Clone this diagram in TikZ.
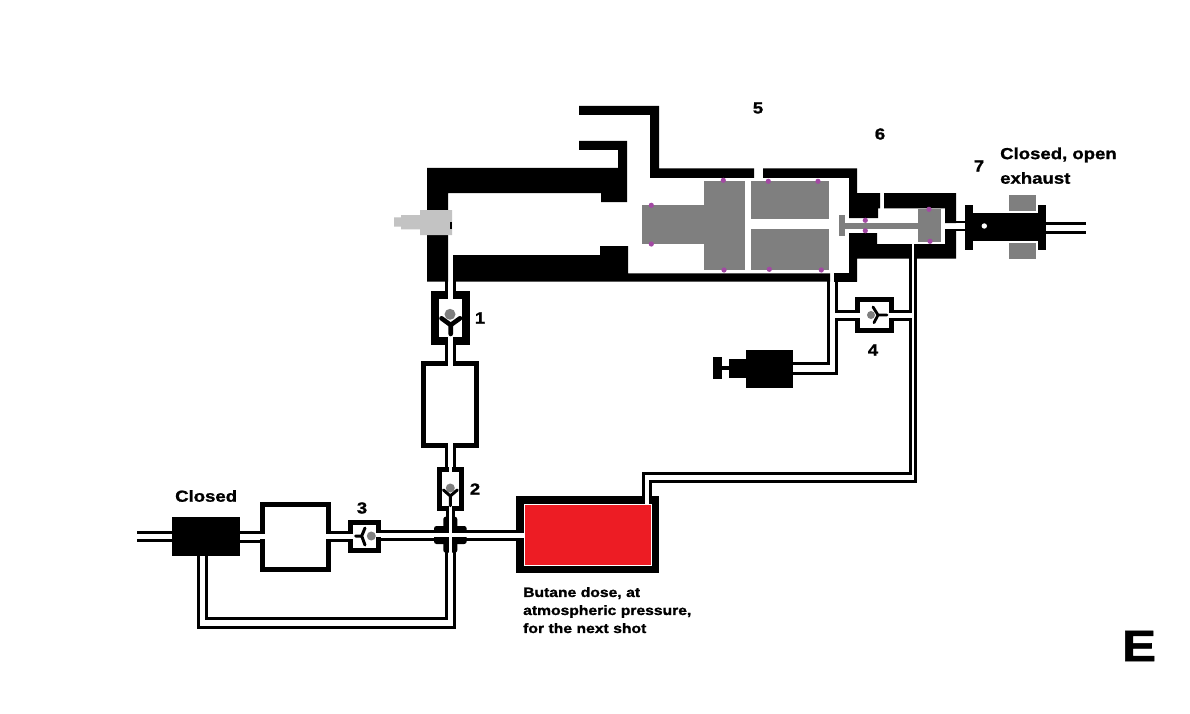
\documentclass[tikz,border=0pt]{standalone}
\usepackage{fontspec}
\setmainfont{Liberation Sans}[BoldFeatures={FakeStretch=1.16,FakeBold=1.2}]
\definecolor{partgray}{HTML}{7F7F7F}
\definecolor{nozzle}{HTML}{C3C3C3}
\definecolor{seal}{HTML}{A349A4}
\definecolor{dose}{HTML}{ED1C24}
\newcommand{\blk}[4]{\fill[black] (#1,#2) rectangle (#3,#4);}
\newcommand{\wht}[4]{\fill[white] (#1,#2) rectangle (#3,#4);}
\newcommand{\gry}[4]{\fill[partgray] (#1,#2) rectangle (#3,#4);}
\newcommand{\sealdot}[2]{\fill[seal] (#1,#2) circle (2.6);}
\tikzset{
  pipe/.style={draw=black,line width=3,line cap=butt,line join=miter},
  vane/.style={draw=black,line cap=round,line join=round},
  box/.style={draw=black,fill=white,line width=5.2,line join=miter},
  lab/.style={inner sep=0,anchor=west,font=\bfseries\fontsize{16}{18}\selectfont,align=left},
  num/.style={inner sep=0,font=\bfseries\fontsize{16}{18}\selectfont},
}
\begin{document}
\begin{tikzpicture}[x=1pt,y=-1pt]
\useasboundingbox (0,0) rectangle (1190,714);
\fill[white] (0,0) rectangle (1190,714);

% ---- long pipes
\draw[pipe] (198.5,556) -- (198.5,627) -- (454.5,627) -- (454.5,545);
\draw[pipe] (206.5,556) -- (206.5,618) -- (446.8,618) -- (446.8,545);
\draw[pipe] (643.5,497) -- (643.5,473.5) -- (910,473.5) -- (910,319.5) -- (893,319.5);
\draw[pipe] (650.5,497) -- (650.5,481.5) -- (915.5,481.5) -- (915.5,256);
\draw[pipe] (910,256) -- (910,311.5) -- (893,311.5);
\draw[pipe] (828.5,280) -- (828.5,363.5) -- (792,363.5);
\draw[pipe] (836.5,280) -- (836.5,311.5) -- (857,311.5);
\draw[pipe] (792,373.5) -- (836.5,373.5) -- (836.5,319.5) -- (857,319.5);
% vertical line of valves 1, 2
\draw[pipe] (446.5,280) -- (446.5,293);
\draw[pipe] (454.5,280) -- (454.5,293);
\draw[pipe] (446.5,343) -- (446.5,363);
\draw[pipe] (454.5,343) -- (454.5,363);
\draw[pipe] (446.5,446) -- (446.5,468);
\draw[pipe] (454.5,446) -- (454.5,468);
\draw[pipe] (447.5,509) -- (447.5,520);
\draw[pipe] (453.5,509) -- (453.5,520);
% horizontal line
\draw[pipe] (137,532.5) -- (173,532.5);
\draw[pipe] (137,540.5) -- (173,540.5);
\draw[pipe] (239,532.5) -- (262,532.5);
\draw[pipe] (239,541) -- (262,541);
\draw[pipe] (329,532.5) -- (350,532.5);
\draw[pipe] (329,540.5) -- (350,540.5);
\draw[pipe] (379,531.3) -- (518,531.3);
\draw[pipe] (379,539.2) -- (518,539.2);
% line to valve 7
\draw[pipe,line width=2.4] (955,222) -- (966,222);
\draw[pipe,line width=2.4] (955,230) -- (966,230);
\draw[pipe] (1045,223.5) -- (1086,223.5);
\draw[pipe] (1045,232.5) -- (1086,232.5);

% ---- main body
\fill[black] (427,168) -- (618,168) -- (618,150) -- (579,150) -- (579,141) -- (627,141)
  -- (627,202) -- (601,202) -- (601,193) -- (448,193) -- (448,281.7) -- (427,281.7) -- cycle;
\fill[black] (453,255) -- (600,255) -- (600,246) -- (628,246) -- (628,273.3) -- (830,273.3)
  -- (830,281.7) -- (453,281.7) -- cycle;
\blk{834}{273.3}{857}{281.7}
\fill[black] (579,106) -- (659,106) -- (659,168.5) -- (754,168.5) -- (754,178) -- (650,178)
  -- (650,115) -- (579,115) -- cycle;
\fill[black] (763,168.5) -- (857,168.5) -- (857,193) -- (880,193) -- (880,208.3) -- (878,208.3)
  -- (878,218) -- (849,218) -- (849,178) -- (763,178) -- cycle;
\fill[black] (849,233) -- (877,233) -- (877,244) -- (945,244) -- (945,229) -- (956,229)
  -- (956,258.7) -- (857,258.7) -- (857,281.7) -- (849,281.7) -- cycle;
\fill[black] (884,193) -- (956,193) -- (956,223) -- (945,223) -- (945,208.3) -- (884,208.3) -- cycle;
\wht{911.5}{244}{914}{259}

% ---- pistons
\gry{642}{205}{705}{244}
\gry{704}{181}{745}{270}
\gry{751}{181}{829}{219}
\gry{751}{229}{829}{270}
\gry{839}{215}{845}{236}
\gry{845}{222.5}{918}{228.7}
\gry{918}{209}{941}{242}
\foreach \px/\py in {651.3/205.3,651.3/244,723.3/180.3,724/270,768.3/181.3,818/181.3,
  769.3/269.3,821.3/270,865.3/220.3,865.3/230.7,929/209.3,930/241.3}{\sealdot{\px}{\py}}

% ---- nozzle
\fill[nozzle] (394,217.3) -- (401,217.3) -- (401,215) -- (420,215) -- (420,210) -- (452,210)
  -- (452,235) -- (420,235) -- (420,229.3) -- (401,229.3) -- (401,226.7) -- (394,226.7) -- cycle;
\blk{449.5}{222}{452}{229}

% ---- valve 1
\fill[black] (431,291) rectangle (470,344.7);
\wht{438.7}{299}{462.3}{336.7}
\wht{448.2}{289}{452.8}{347}
\fill[partgray] (450,314.3) circle (5.5);
\draw[vane,line width=4.6] (441.5,318.3) -- (450.7,325) -- (460,318.3) (450.7,325) -- (450.7,334);

% ---- chamber 1
\draw[box] (423.6,363.6) rectangle (476.4,445.1);
\wht{448.2}{360}{452.8}{367}
\wht{448.2}{442}{452.8}{449}

% ---- valve 2
\fill[black] (437,467) rectangle (464,510.7);
\wht{441.7}{471.5}{459.3}{505.7}
\wht{449.2}{465}{451.8}{472}
\wht{449.2}{505}{451.8}{512}
\fill[partgray] (450.3,488) circle (4.5);
\draw[vane,line width=3] (443.5,490) -- (450.3,496) -- (457.3,490) (450.3,496) -- (450.3,505.7);

% ---- crossing
\fill[black,rounded corners=2.5] (434,526) rectangle (466.7,544);
\fill[black,rounded corners=2.5] (443.3,516.7) rectangle (457.3,552.7);
\wht{449.3}{510}{452}{560}
\wht{430}{533}{470}{537.4}
\draw[pipe] (446.8,552) -- (446.8,560);
\draw[pipe] (454.5,552) -- (454.5,560);

% ---- chamber 2, valve 3
\draw[box] (262.6,504.6) rectangle (328.4,569.8);
\wht{258}{534}{268}{539}
\wht{323}{534}{333}{539}
\fill[black] (348,520) rectangle (380.7,552.7);
\wht{353}{525}{376}{548}
\wht{346}{534}{354}{539}
\wht{375}{533}{383}{537.4}
\fill[partgray] (371.3,536) circle (4.5);
\draw[vane,line width=3] (355.7,536) -- (361.7,536) (365,528) -- (361.7,536) -- (365,545);

% ---- valve 4
\fill[black] (855,297) rectangle (894,332.7);
\wht{860}{302}{889}{328}
\wht{853}{313}{861}{318}
\wht{888}{313}{896}{318}
\fill[partgray] (871,315) circle (4);
\draw[vane,line width=2.8] (887,315) -- (878,315) (873,307) -- (878,315) -- (874,322.7);

% ---- pump
\blk{746}{350}{793}{387.7}
\blk{729}{359}{746}{377.7}
\blk{722}{366}{729}{370}
\blk{713}{357}{722}{379}

% ---- valve 7 and starter
\blk{973}{213}{1038}{241}
\blk{965}{205}{973}{249.7}
\blk{1038}{205}{1046}{249.7}
\fill[white] (984.3,226) circle (2.7);
\gry{1009}{195}{1036}{211}
\gry{1009}{243}{1036}{259}
\blk{172}{517}{240}{556}

% ---- butane tank
\blk{516}{496}{659}{573}
\fill[dose,draw=white,line width=1] (524.5,504.5) rectangle (651,565);
\wht{514}{533}{525}{538}
\wht{645.2}{494}{649}{505}

% ---- labels
\node[lab] (closedL) at (175,496) {Closed};
\node[lab] (closedR) at (1000,155) {Closed, open};
\node[lab] (exhaust) at (1000,178) {exhaust};
\node[lab,font=\bfseries\fontsize{13.5}{18}\selectfont,text width=175,anchor=north west] (butane) at (523,587)
  {Butane dose, at\\atmospheric pressure,\\for the next shot};
\node[num] (n1) at (480,318) {1};
\node[num] (n2) at (475,489) {2};
\node[num] (n3) at (362,508) {3};
\node[num] (n4) at (873,350) {4};
\node[num] (n5) at (758,108) {5};
\node[num] (n6) at (880,134) {6};
\node[num] (n7) at (979,166) {7};
\node[inner sep=0,font=\bfseries\fontsize{44}{50}\selectfont] (stage) at (1139,646) {E};
\end{tikzpicture}
\end{document}
